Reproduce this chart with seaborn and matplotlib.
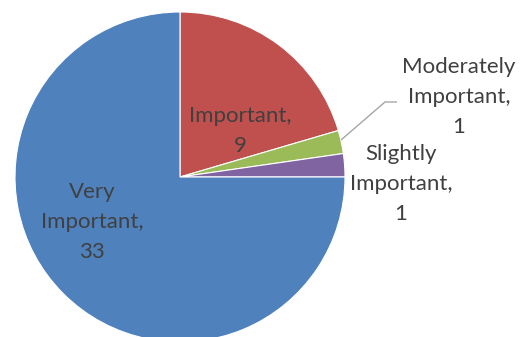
import matplotlib
matplotlib.use("Agg")
import matplotlib.pyplot as plt
import seaborn as sns

# Survey responses: importance rating counts
categories = ["Important", "Moderately Important", "Slightly Important", "Very Important"]
counts = [9, 1, 1, 33]
colors = ["#C0504D", "#9BBB59", "#8064A2", "#4F81BD"]

sns.set_theme(style="white")
plt.rcParams["font.family"] = ["Lato", "DejaVu Sans"]

W, H = 523, 337
fig = plt.figure(figsize=(W / 100, H / 100), dpi=100)
ax = fig.add_axes([0, 0, 1, 1])

cx, cy, r = 180, H - 177, 165
ax.pie(counts, colors=colors, startangle=90, counterclock=False,
       center=(cx, cy), radius=r, frame=True,
       wedgeprops=dict(edgecolor="white", linewidth=0.8))
ax.set_xlim(0, W)
ax.set_ylim(0, H)
ax.set_aspect("equal")
ax.axis("off")

txt = dict(ha="center", va="center", color="#404040", fontsize=16,
           linespacing=1.6)

def wrap(name, value):
    words = name.split(" ")
    return "\n".join(words[:-1] + [words[-1] + ","] + [str(value)])

# Text layout (pixel coordinates, y measured from top)
positions = [(240, 131), (459, 97), (401, 184), (92, 222)]
for name, value, (x, y) in zip(categories, counts, positions):
    ax.text(x, H - y, wrap(name, value), **txt)

# Leader line for the thin green slice
ax.plot([397, 385, 341], [H - 102, H - 102, H - 140], color="#A6A6A6", lw=1.0,
        solid_capstyle="butt")

fig.savefig("out.png", dpi=100)
